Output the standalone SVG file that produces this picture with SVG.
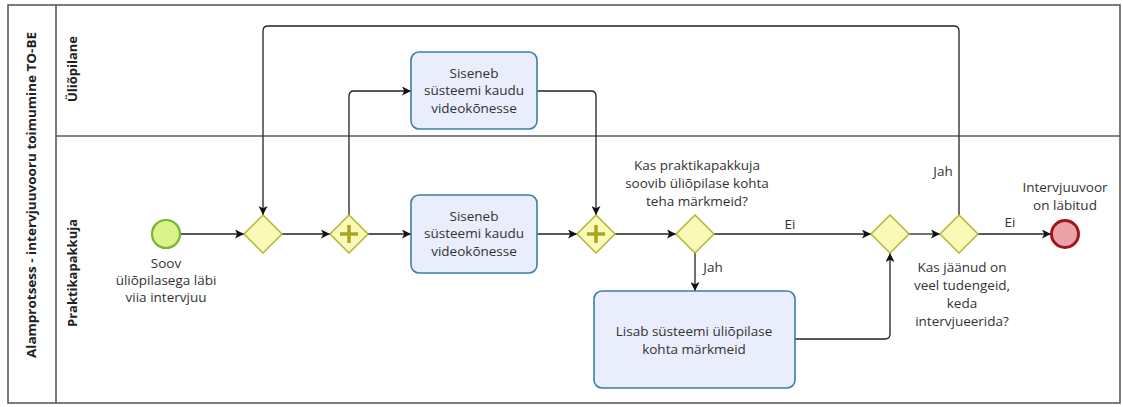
<svg xmlns="http://www.w3.org/2000/svg" width="1123" height="407" viewBox="0 0 1123 407">
  <style>
    .pool { fill: #fff; stroke: #5a5a5a; stroke-width: 1.6; }
    .lane { stroke: #5a5a5a; stroke-width: 1.6; fill: none; }
    .hdr { font-family: "Open Sans", "Noto Sans", sans-serif; font-weight: bold; font-size: 13px; fill: #222; text-anchor: middle; }
    .task { fill: #e9edfc; stroke: #3c7ea6; stroke-width: 1.6; }
    .gw { fill: #fafab8; stroke: #b4b432; stroke-width: 1.5; }
    .plus { stroke: #a6a620; stroke-width: 3.5; fill: none; }
    .flow { fill: none; stroke: #222; stroke-width: 1.3; }
    .txt { font-family: "Open Sans", "Noto Sans", sans-serif; font-size: 13.5px; fill: #333; text-anchor: middle; }
  </style>
  <defs>
    <marker id="arrow" viewBox="0 0 10 10" refX="10" refY="5" markerWidth="9" markerHeight="9" markerUnits="userSpaceOnUse" orient="auto">
      <path d="M0,0 L10,5 L0,10 L2.5,5 Z" fill="#111"/>
    </marker>
  </defs>

  <!-- pool and lanes -->
  <g id="pool">
    <rect class="pool" x="8" y="5" width="1112" height="398"/>
    <line class="lane" x1="56" y1="5" x2="56" y2="403"/>
    <line class="lane" x1="56" y1="136" x2="1120" y2="136"/>
    <text class="hdr" transform="translate(36,195) rotate(-90)" textLength="326" lengthAdjust="spacingAndGlyphs">Alamprotsess - intervjuuvooru toimumine TO-BE</text>
    <text class="hdr" transform="translate(77,69) rotate(-90)">Üliõpilane</text>
    <text class="hdr" transform="translate(77,273) rotate(-90)">Praktikapakkuja</text>
  </g>

  <!-- sequence flows -->
  <g id="connectors">
    <path class="flow" marker-end="url(#arrow)" d="M180,234 H244"/>
    <path class="flow" marker-end="url(#arrow)" d="M282,234 H330"/>
    <path class="flow" marker-end="url(#arrow)" d="M368,234 H411"/>
    <path class="flow" marker-end="url(#arrow)" d="M349,215 V96 Q349,91 354,91 H411"/>
    <path class="flow" marker-end="url(#arrow)" d="M537,91 H591 Q596,91 596,96 V215"/>
    <path class="flow" marker-end="url(#arrow)" d="M537,234 H577"/>
    <path class="flow" marker-end="url(#arrow)" d="M615,234 H676"/>
    <path class="flow" marker-end="url(#arrow)" d="M714,234 H871"/>
    <path class="flow" marker-end="url(#arrow)" d="M695,253 V291"/>
    <path class="flow" marker-end="url(#arrow)" d="M795,339 H885 Q890,339 890,334 V253"/>
    <path class="flow" marker-end="url(#arrow)" d="M909,234 H940"/>
    <path class="flow" marker-end="url(#arrow)" d="M978,234 H1051"/>
    <path class="flow" marker-end="url(#arrow)" d="M959,215 V31 Q959,26 954,26 H268 Q263,26 263,31 V215"/>
    <text class="txt" x="790" y="229">Ei</text>
    <text class="txt" x="713" y="272">Jah</text>
    <text class="txt" x="1010" y="227">Ei</text>
    <text class="txt" x="943" y="176">Jah</text>
  </g>

  <!-- start event -->
  <g id="start">
    <circle cx="166" cy="234" r="14" fill="#dcf28a" stroke="#74b62e" stroke-width="2.2"/>
    <text class="txt" x="166" y="268">Soov</text>
    <text class="txt" x="166" y="285">üliõpilasega läbi</text>
    <text class="txt" x="166" y="302">viia intervjuu</text>
  </g>

  <!-- gateways -->
  <g id="gw-merge">
    <path class="gw" d="M263,215 L282,234 L263,253 L244,234 Z"/>
  </g>
  <g id="gw-split">
    <path class="gw" d="M349,215 L368,234 L349,253 L330,234 Z"/>
    <path class="plus" d="M349,225 V243 M340,234 H358"/>
  </g>
  <g id="gw-join">
    <path class="gw" d="M596,215 L615,234 L596,253 L577,234 Z"/>
    <path class="plus" d="M596,225 V243 M587,234 H605"/>
  </g>
  <g id="gw-notes">
    <path class="gw" d="M695,215 L714,234 L695,253 L676,234 Z"/>
    <text class="txt" x="697" y="170">Kas praktikapakkuja</text>
    <text class="txt" x="697" y="188">soovib üliõpilase kohta</text>
    <text class="txt" x="697" y="206">teha märkmeid?</text>
  </g>
  <g id="gw-notes-merge">
    <path class="gw" d="M890,215 L909,234 L890,253 L871,234 Z"/>
  </g>
  <g id="gw-more">
    <path class="gw" d="M959,215 L978,234 L959,253 L940,234 Z"/>
    <text class="txt" x="962" y="272">Kas jäänud on</text>
    <text class="txt" x="962" y="290">veel tudengeid,</text>
    <text class="txt" x="962" y="308">keda</text>
    <text class="txt" x="962" y="326">intervjueerida?</text>
  </g>

  <!-- tasks -->
  <g id="task-student">
    <rect class="task" x="411" y="52" width="126" height="77" rx="8"/>
    <text class="txt" x="474" y="78">Siseneb</text>
    <text class="txt" x="474" y="95">süsteemi kaudu</text>
    <text class="txt" x="474" y="113">videokõnesse</text>
  </g>
  <g id="task-company">
    <rect class="task" x="411" y="195" width="126" height="78" rx="8"/>
    <text class="txt" x="474" y="221">Siseneb</text>
    <text class="txt" x="474" y="238">süsteemi kaudu</text>
    <text class="txt" x="474" y="256">videokõnesse</text>
  </g>
  <g id="task-notes">
    <rect class="task" x="594" y="291" width="201" height="97" rx="8"/>
    <text class="txt" x="694" y="336">Lisab süsteemi üliõpilase</text>
    <text class="txt" x="694" y="354">kohta märkmeid</text>
  </g>

  <!-- end event -->
  <g id="end">
    <circle cx="1065" cy="234" r="13.5" fill="#eba3aa" stroke="#a4141c" stroke-width="3"/>
    <text class="txt" x="1065" y="192">Intervjuuvoor</text>
    <text class="txt" x="1065" y="210">on läbitud</text>
  </g>
</svg>
